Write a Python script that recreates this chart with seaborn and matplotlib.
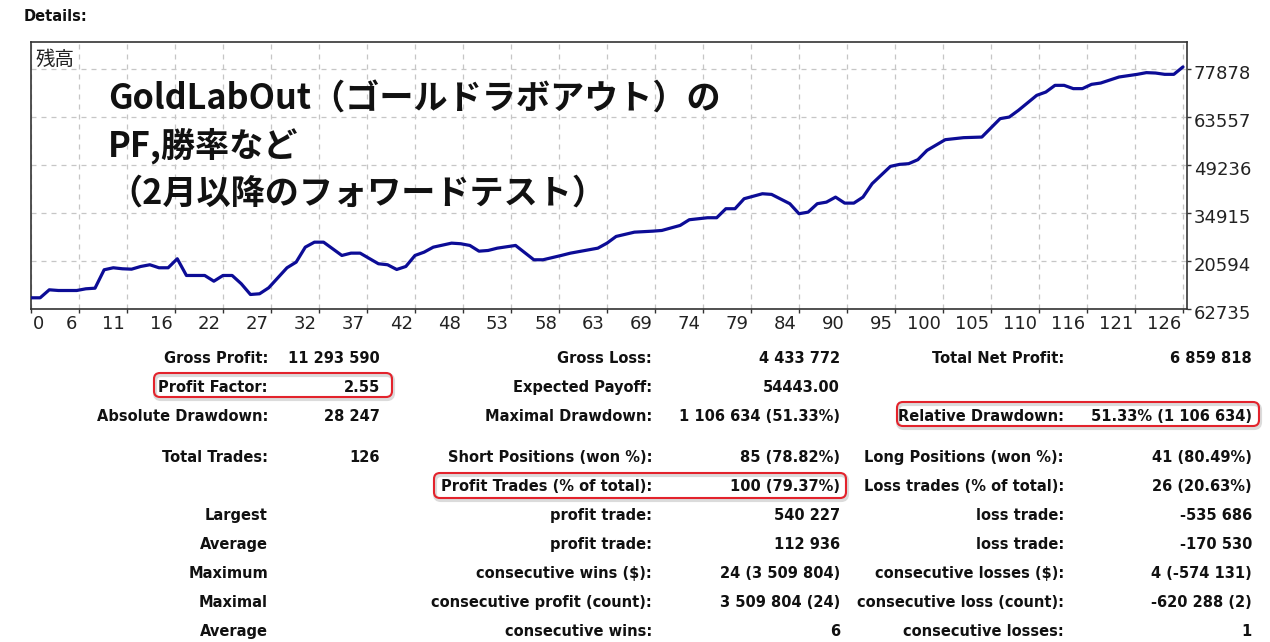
import matplotlib
matplotlib.use("Agg")
import matplotlib.pyplot as plt
import matplotlib.transforms as mtransforms
import seaborn as sns
from matplotlib.patches import FancyBboxPatch

# balance curve (trade number -> balance, thousands)
trade_no = [
    0, 1, 2, 3, 5, 6, 7, 8, 9, 10,
    11, 12, 13, 14, 15, 16, 17, 19, 20, 21,
    22, 23, 24, 25, 26, 28, 29, 30, 31, 32,
    34, 35, 36, 38, 39, 40, 41, 42, 43, 44,
    46, 47, 48, 49, 50, 51, 53, 55, 56, 58,
    59, 62, 63, 64, 66, 68, 69, 71, 72, 74,
    75, 76, 77, 78, 80, 81, 83, 84, 85, 86,
    87, 88, 89, 90, 91, 92, 94, 95, 96, 97,
    98, 100, 102, 104, 106, 107, 108, 110, 111, 112,
    113, 114, 115, 116, 117, 119, 121, 122, 123, 124,
    125, 126,
]
balance_k = [
    962, 962, 1201, 1180, 1180, 1231, 1249, 1799, 1859, 1829,
    1817, 1898, 1949, 1859, 1859, 2128, 1629, 1629, 1458, 1629,
    1629, 1381, 1061, 1082, 1261, 1859, 2027, 2475, 2624, 2624,
    2227, 2296, 2296, 1979, 1949, 1808, 1898, 2227, 2326, 2475,
    2595, 2577, 2526, 2355, 2376, 2445, 2526, 2098, 2098, 2227,
    2296, 2445, 2595, 2795, 2923, 2953, 2974, 3124, 3294, 3354,
    3354, 3623, 3623, 3922, 4071, 4051, 3773, 3474, 3521, 3773,
    3820, 3970, 3791, 3791, 3970, 4371, 4888, 4948, 4969, 5088,
    5366, 5686, 5746, 5764, 6314, 6362, 6562, 7010, 7109, 7309,
    7309, 7211, 7211, 7339, 7378, 7558, 7638, 7689, 7677, 7638,
    7638, 7860,
]

x_labels = ["0", "6", "11", "16", "22", "27", "32", "37", "42", "48", "53", "58", "63",
            "69", "74", "79", "84", "90", "95", "100", "105", "110", "116", "121", "126"]
y_ticks = [627350, 2059400, 3491500, 4923600, 6355700, 7787800]
y_labels = ["62735", "20594", "34915", "49236", "63557", "77878"]

overlay_lines = ["GoldLabOut（ゴールドラボアウト）の", "PF,勝率など", "（2月以降のフォワードテスト）"]

# report table: (row y, label1, value1, label2, value2, label3, value3)
rows = [
    (358, "Gross Profit:", "11 293 590", "Gross Loss:", "4 433 772", "Total Net Profit:", "6 859 818"),
    (387, "Profit Factor:", "2.55", "Expected Payoff:", "54443.00", "", ""),
    (416, "Absolute Drawdown:", "28 247", "Maximal Drawdown:", "1 106 634 (51.33%)",
     "Relative Drawdown:", "51.33% (1 106 634)"),
    (457, "Total Trades:", "126", "Short Positions (won %):", "85 (78.82%)",
     "Long Positions (won %):", "41 (80.49%)"),
    (486, "", "", "Profit Trades (% of total):", "100 (79.37%)",
     "Loss trades (% of total):", "26 (20.63%)"),
    (515, "Largest", "", "profit trade:", "540 227", "loss trade:", "-535 686"),
    (544, "Average", "", "profit trade:", "112 936", "loss trade:", "-170 530"),
    (573, "Maximum", "", "consecutive wins ($):", "24 (3 509 804)",
     "consecutive losses ($):", "4 (-574 131)"),
    (602, "Maximal", "", "consecutive profit (count):", "3 509 804 (24)",
     "consecutive loss (count):", "-620 288 (2)"),
    (631, "Average", "", "consecutive wins:", "6", "consecutive losses:", "1"),
]
highlight_boxes = [(154, 373, 392, 397), (434, 473, 846, 498), (897, 402, 1259, 426)]

W, H = 1270, 642

sns.set_theme(style="white")
plt.rcParams["font.family"] = ["DejaVu Sans", "Noto Sans CJK JP"]

fig = plt.figure(figsize=(W / 100, H / 100), dpi=100)
fig.patch.set_facecolor("white")

ax_l, ax_r, ax_t, ax_b = 31, 1187, 42, 309
ax = fig.add_axes([ax_l / W, 1 - ax_b / H, (ax_r - ax_l) / W, (ax_b - ax_t) / H])

balance = [b * 1000 for b in balance_k]
sns.lineplot(x=trade_no, y=balance, ax=ax, color="#0c0c96", linewidth=2.3, zorder=3)

step = 126 / 24
ax.set_xlim(0, 126.44)
ax.set_ylim(627350, 8604000)
ax.set_xticks([i * step for i in range(len(x_labels))])
ax.set_xticklabels(x_labels)
ax.yaxis.tick_right()
ax.set_yticks(y_ticks)
ax.set_yticklabels(y_labels)
ax.set_xlabel("")
ax.set_ylabel("")

ax.grid(True, linestyle=(0, (4, 4)), color="#c6c6c6", linewidth=0.9)
ax.tick_params(axis="both", direction="out", length=3, width=1, color="#333333",
               labelsize=13, labelcolor="#222222", pad=2)
ax.tick_params(axis="x", bottom=True, pad=1)
ax.tick_params(axis="y", right=True, left=False)
for sp in ax.spines.values():
    sp.set_color("#333333")
    sp.set_linewidth(1.2)

# MT4 puts the trade numbers just left of each grid line
shift_l = mtransforms.ScaledTranslation(-2 / 100, 0, fig.dpi_scale_trans)
shift_r = mtransforms.ScaledTranslation(2 / 100, 0, fig.dpi_scale_trans)
for i, lab in enumerate(ax.get_xticklabels()):
    if i == 0:
        lab.set_horizontalalignment("left")
        lab.set_transform(lab.get_transform() + shift_r)
    else:
        lab.set_horizontalalignment("right")
        lab.set_transform(lab.get_transform() + shift_l)
shift_dn = mtransforms.ScaledTranslation(0, -3 / 100, fig.dpi_scale_trans)
for lab in ax.get_yticklabels():
    lab.set_transform(lab.get_transform() + shift_dn)

ax.text(5 / (ax_r - ax_l), 1 - 17 / (ax_b - ax_t), "残高", transform=ax.transAxes,
        family=["Noto Sans CJK JP", "DejaVu Sans"], fontsize=14, color="#222222",
        ha="left", va="center")

for i, line in enumerate(overlay_lines):
    fig.text(108 / W, 1 - (99 + 47 * i) / H, line, family=["Noto Sans CJK JP", "DejaVu Sans"],
             fontsize=24.6, fontweight="bold", color="#111111", ha="left", va="center")

fig.text(24 / W, 1 - 21 / H, "Details:", fontsize=10.5, fontweight="bold",
         color="#111111", ha="left", va="baseline")

# table text sits on a common baseline per row
col_edges = [(268, 380), (652, 840), (1064, 1252)]
for row in rows:
    y = 1 - (row[0] + 5) / H
    for c, (lx, vx) in enumerate(col_edges):
        label, value = row[1 + 2 * c], row[2 + 2 * c]
        if label:
            fig.text(lx / W, y, label, fontsize=10.5, fontweight="bold",
                     color="#111111", ha="right", va="baseline")
        if value:
            fig.text(vx / W, y, value, fontsize=10.5, fontweight="bold",
                     color="#111111", ha="right", va="baseline")

ident = mtransforms.IdentityTransform()
for x0, y0, x1, y1 in highlight_boxes:
    shadow = FancyBboxPatch((x0 + 1, H - y1 - 2), x1 - x0, y1 - y0,
                            boxstyle="round,pad=0,rounding_size=6", transform=ident,
                            fill=False, edgecolor="#b0b0b0", linewidth=3, alpha=0.45)
    box = FancyBboxPatch((x0, H - y1), x1 - x0, y1 - y0,
                         boxstyle="round,pad=0,rounding_size=6", transform=ident,
                         fill=False, edgecolor="#e3232c", linewidth=1.5)
    fig.add_artist(shadow)
    fig.add_artist(box)

fig.savefig("out.png", dpi=100)
